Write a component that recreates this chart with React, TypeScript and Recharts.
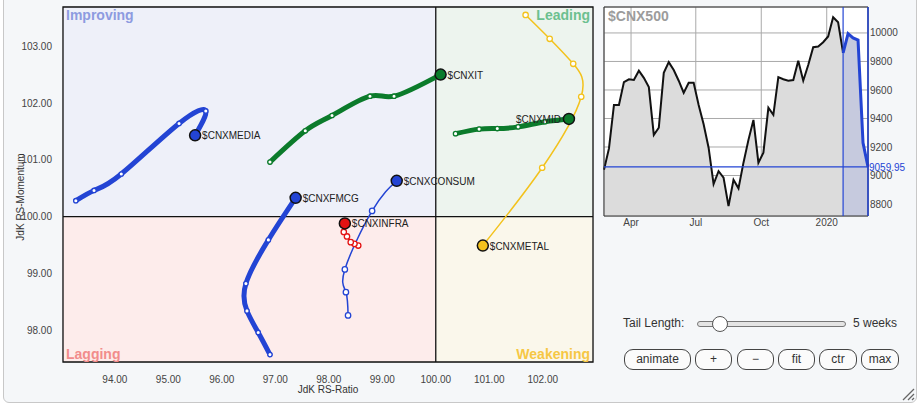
import React from "react";
import {
  ComposedChart,
  Line,
  Area,
  XAxis,
  YAxis,
  CartesianGrid,
  ReferenceArea,
  ReferenceLine,
  Label,
} from "recharts";

const FONT = "Arial, 'Liberation Sans', sans-serif";
const BLUE = "#2344d4";
const GREEN = "#0b7b2b";
const YELLOW = "#f3c21c";
const RED = "#e31212";

// RRG tails, oldest -> newest (last point = head)
const mediaRatio = [93.27, 93.61, 94.12, 95.2, 95.7, 95.5];
const mediaMom = [100.28, 100.46, 100.75, 101.64, 101.86, 101.43];
const itRatio = [96.9, 97.56, 98.06, 98.77, 99.22, 100.09];
const itMom = [100.96, 101.51, 101.78, 102.12, 102.12, 102.5];
const midRatio = [100.37, 100.81, 101.15, 101.54, 102.04, 102.49];
const midMom = [101.46, 101.54, 101.55, 101.58, 101.67, 101.72];
const metalRatio = [101.68, 102.13, 102.57, 102.72, 101.99, 100.88];
const metalMom = [103.55, 103.13, 102.69, 102.11, 100.86, 99.49];
const consumRatio = [98.36, 98.32, 98.3, 98.81, 99.27];
const consumMom = [98.26, 98.67, 99.07, 100.1, 100.63];
const infraRatio = [98.55, 98.48, 98.41, 98.34, 98.28, 98.3];
const infraMom = [99.49, 99.52, 99.55, 99.65, 99.73, 99.88];
const fmcgRatio = [96.9, 96.68, 96.47, 96.45, 96.87, 97.38];
const fmcgMom = [97.57, 97.96, 98.34, 98.82, 99.59, 100.33];

const ratioTicks = [94, 95, 96, 97, 98, 99, 100, 101, 102];
const momTicks = [98, 99, 100, 101, 102, 103];

// $CNX500 weekly closes
const weeks = [
  "2019-02-22", "2019-03-01", "2019-03-08", "2019-03-15", "2019-03-22", "2019-03-29",
  "2019-04-05", "2019-04-12", "2019-04-19", "2019-04-26", "2019-05-03", "2019-05-10",
  "2019-05-17", "2019-05-24", "2019-05-31", "2019-06-07", "2019-06-14", "2019-06-21",
  "2019-06-28", "2019-07-05", "2019-07-12", "2019-07-19", "2019-07-26", "2019-08-02",
  "2019-08-09", "2019-08-16", "2019-08-23", "2019-08-30", "2019-09-06", "2019-09-13",
  "2019-09-20", "2019-09-27", "2019-10-04", "2019-10-11", "2019-10-18", "2019-10-25",
  "2019-11-01", "2019-11-08", "2019-11-15", "2019-11-22", "2019-11-29", "2019-12-06",
  "2019-12-13", "2019-12-20", "2019-12-27", "2020-01-03", "2020-01-10", "2020-01-17",
  "2020-01-24", "2020-01-31", "2020-02-07", "2020-02-14", "2020-02-21", "2020-02-28",
];
const closes = [
  9040, 9190, 9495, 9495, 9655, 9675, 9670, 9735, 9685, 9620, 9285, 9335,
  9720, 9795, 9740, 9665, 9580, 9650, 9650, 9495, 9360, 9195, 8940, 9030,
  8985, 8785, 8970, 8910, 9090, 9250, 9390, 9090, 9160, 9475, 9425, 9690,
  9675, 9665, 9670, 9805, 9665, 9775, 9900, 9905, 9935, 9975, 10110, 10075,
  9860, 9995, 9965, 9950, 9230, 9059.95,
];
const tailStart = "2020-01-24";
const lastClose = 9059.95;
const priceTicks = [8800, 9000, 9200, 9400, 9600, 9800, 10000];
const monthTicks = ["2019-04-01", "2019-07-01", "2019-10-01", "2020-01-01"];
const monthLabels = ["Apr", "Jul", "Oct", "2020"];

const buttons = ["animate", "+", "\u2212", "fit", "ctr", "max"];

const ts = (d: string) => Date.parse(d + "T00:00:00Z");
const tailIdx = weeks.indexOf(tailStart);
const priceData = weeks.map((w, i) => ({
  t: ts(w),
  v: i <= tailIdx ? closes[i] : null,
  b: i >= tailIdx ? closes[i] : null,
}));
const monthTs = monthTicks.map(ts);

const series = [
  { name: "$CNXMETAL", ratio: metalRatio, mom: metalMom, color: YELLOW, width: 1.5, left: false },
  { name: "$CNXCONSUM", ratio: consumRatio, mom: consumMom, color: BLUE, width: 1.5, left: false },
  { name: "$CNXMEDIA", ratio: mediaRatio, mom: mediaMom, color: BLUE, width: 5, left: false },
  { name: "$CNXFMCG", ratio: fmcgRatio, mom: fmcgMom, color: BLUE, width: 5, left: false },
  { name: "$CNXINFRA", ratio: infraRatio, mom: infraMom, color: RED, width: 1.5, left: false },
  { name: "$CNXIT", ratio: itRatio, mom: itMom, color: GREEN, width: 5, left: false },
  { name: "$CNXMID", ratio: midRatio, mom: midMom, color: GREEN, width: 5, left: true },
];

const XMIN = 93.03;
const XMAX = 102.94;
const YMIN = 97.44;
const YMAX = 103.69;

const makeDot = (s: any) => (props: any) => {
  const { cx, cy, index } = props;
  const key = s.name + index;
  if (index === s.ratio.length - 1) {
    return (
      <g key={key}>
        <circle cx={cx} cy={cy} r={5.5} fill={s.color} stroke="#111" strokeWidth={1.5} />
        <text
          x={s.left ? cx - 8 : cx + 7}
          y={cy + 4}
          textAnchor={s.left ? "end" : "start"}
          fontSize={10}
          fill="#222"
          fontFamily={FONT}
        >
          {s.name}
        </text>
      </g>
    );
  }
  return (
    <circle key={key} cx={cx} cy={cy} r={s.width > 2 ? 2.2 : 2.7} fill="#fff" stroke={s.color} strokeWidth={1.3} />
  );
};

const quadLabel = (text: string, color: string, pos: any) => (
  <Label value={text} position={pos} offset={3} fill={color} fontSize={14} fontWeight="bold" fontFamily={FONT} />
);

function RRG() {
  const tick = { fontSize: 10, fill: "#444", fontFamily: FONT };
  return (
    <ComposedChart width={600} height={404} margin={{ top: 7, right: 7, bottom: 8, left: 0 }}>
      <XAxis
        type="number"
        dataKey="x"
        domain={[XMIN, XMAX]}
        ticks={ratioTicks}
        allowDataOverflow
        tickFormatter={(v: number) => v.toFixed(2)}
        tick={tick}
        axisLine={false}
        tickLine={false}
        tickSize={6}
        tickMargin={8}
        height={34}
      >
        <Label
          content={(p: any) => (
            <text x={p.viewBox.x + p.viewBox.width / 2} y={393} textAnchor="middle" fontSize={10} fill="#333" fontFamily={FONT}>
              JdK RS-Ratio
            </text>
          )}
        />
      </XAxis>
      <YAxis
        type="number"
        dataKey="y"
        domain={[YMIN, YMAX]}
        ticks={momTicks}
        allowDataOverflow
        tickFormatter={(v: number) => v.toFixed(2)}
        tick={tick}
        axisLine={false}
        tickLine={false}
        tickSize={6}
        tickMargin={5}
        width={63}
      >
        <Label
          content={() => (
            <text x={24} y={197} transform="rotate(-90 24 197)" textAnchor="middle" fontSize={10} fill="#333" fontFamily={FONT}>
              JdK RS-Momentum
            </text>
          )}
        />
      </YAxis>

      <ReferenceArea x1={XMIN} x2={100} y1={100} y2={YMAX} fill="#eef0f9" fillOpacity={1} stroke="none">
        {quadLabel("Improving", "#8d9be0", "insideTopLeft")}
      </ReferenceArea>
      <ReferenceArea x1={100} x2={XMAX} y1={100} y2={YMAX} fill="#edf4ee" fillOpacity={1} stroke="none">
        {quadLabel("Leading", "#6cc08f", "insideTopRight")}
      </ReferenceArea>
      <ReferenceArea x1={XMIN} x2={100} y1={YMIN} y2={100} fill="#fdeceb" fillOpacity={1} stroke="none">
        {quadLabel("Lagging", "#f28c8c", "insideBottomLeft")}
      </ReferenceArea>
      <ReferenceArea x1={100} x2={XMAX} y1={YMIN} y2={100} fill="#faf7eb" fillOpacity={1} stroke="none">
        {quadLabel("Weakening", "#f6c744", "insideBottomRight")}
      </ReferenceArea>

      <CartesianGrid stroke="#d9d9d9" strokeWidth={1} />

      <ReferenceLine x={100} stroke="#111" strokeWidth={1.3} />
      <ReferenceLine y={100} stroke="#111" strokeWidth={1.3} />
      <ReferenceArea x1={XMIN} x2={XMAX} y1={YMIN} y2={YMAX} fill="none" stroke="#111" strokeWidth={1.3} />

      {series.map((s) => (
        <Line
          key={s.name}
          data={s.ratio.map((x, i) => ({ x, y: s.mom[i] }))}
          dataKey="y"
          type="natural"
          stroke={s.color}
          strokeWidth={s.width}
          strokeLinecap="round"
          dot={makeDot(s)}
          activeDot={false}
          isAnimationActive={false}
        />
      ))}
    </ComposedChart>
  );
}

function PriceChart() {
  const tick = { fontSize: 10, fill: "#444", fontFamily: FONT };
  return (
    <ComposedChart width={319} height={240} data={priceData} margin={{ top: 7, right: 0, bottom: 6, left: 4 }}>
      <CartesianGrid stroke="#a9a9a9" fill="#fff" />
      <XAxis
        type="number"
        dataKey="t"
        domain={[priceData[0].t, priceData[priceData.length - 1].t]}
        ticks={monthTs}
        tickFormatter={(v: number) => monthLabels[monthTs.indexOf(v)]}
        tick={tick}
        axisLine={false}
        tickLine={false}
        tickSize={0}
        tickMargin={3}
        height={18}
      />
      <YAxis
        orientation="right"
        domain={[8716, 10182]}
        ticks={priceTicks}
        allowDataOverflow
        tick={tick}
        axisLine={false}
        tickLine={false}
        tickSize={0}
        tickMargin={2}
        width={51}
      />
      <Area
        dataKey="v"
        type="linear"
        stroke="#111"
        strokeWidth={2}
        fill="#dcdcdc"
        fillOpacity={1}
        dot={false}
        activeDot={false}
        isAnimationActive={false}
      />
      <Area
        dataKey="b"
        type="linear"
        stroke={BLUE}
        strokeWidth={3}
        fill="#c6cade"
        fillOpacity={1}
        dot={false}
        activeDot={false}
        isAnimationActive={false}
      />
      <ReferenceArea
        x1={priceData[0].t}
        x2={priceData[priceData.length - 1].t}
        y1={8716}
        y2={10182}
        fill="none"
        stroke="#333"
        strokeWidth={1}
      >
        <Label value="$CNX500" position="insideTopLeft" offset={4} fill="#9c9c9c" fontSize={14} fontWeight="bold" fontFamily={FONT} />
      </ReferenceArea>
      <ReferenceLine x={ts(tailStart)} stroke={BLUE} strokeWidth={1.2} />
      <ReferenceLine x={priceData[priceData.length - 1].t} stroke={BLUE} strokeWidth={1.5} />
      <ReferenceLine
        y={lastClose}
        stroke={BLUE}
        strokeWidth={1.2}
        label={(p: any) => {
          const vb = p.viewBox;
          const x = vb.x + vb.width + 1;
          return (
            <g>
              <rect x={x} y={vb.y - 6} width={40} height={11} fill="#f5f7f9" />
              <text x={x} y={vb.y + 4} fontSize={10} fill={BLUE} fontFamily={FONT}>
                {lastClose.toFixed(2)}
              </text>
            </g>
          );
        }}
      />
    </ComposedChart>
  );
}

const btnX = [624, 695, 737, 778, 819, 861];
const btnW = [65, 35, 35, 35, 36, 36];

export default function App() {
  return (
    <div style={{ position: "absolute", left: 0, top: 0, width: 919, height: 404, background: "#fff", overflow: "hidden", fontFamily: FONT }}>
      <div
        style={{
          position: "absolute",
          left: 3,
          top: -8,
          width: 912,
          height: 409,
          border: "1px solid #c8c8c8",
          borderRadius: 6,
          background: "#f5f7f9",
        }}
      />
      <div style={{ position: "absolute", left: 0, top: 0 }}>
        <RRG />
      </div>
      <div style={{ position: "absolute", left: 600, top: 0 }}>
        <PriceChart />
      </div>

      <div style={{ position: "absolute", left: 623, top: 316, fontSize: 12, color: "#333" }}>Tail Length:</div>
      <div
        style={{
          position: "absolute",
          left: 697,
          top: 321,
          width: 147,
          height: 4,
          border: "1px solid #777",
          borderRadius: 3,
          background: "#e4e4e4",
        }}
      />
      <div
        style={{
          position: "absolute",
          left: 712,
          top: 316,
          width: 14,
          height: 14,
          border: "1px solid #555",
          borderRadius: "50%",
          background: "#fff",
        }}
      />
      <div style={{ position: "absolute", left: 853, top: 316, fontSize: 12, color: "#333" }}>5 weeks</div>

      {buttons.map((b, i) => (
        <div
          key={b}
          style={{
            position: "absolute",
            left: btnX[i],
            top: 349,
            width: btnW[i],
            height: 19,
            border: "1px solid #444",
            borderRadius: 9,
            background: "#fbfbfb",
            fontSize: 12,
            color: "#333",
            textAlign: "center",
            lineHeight: "19px",
          }}
        >
          {b}
        </div>
      ))}

      <svg style={{ position: "absolute", left: 900, top: 386 }} width={16} height={16}>
        <line x1={3} y1={14} x2={14} y2={3} stroke="#666" strokeWidth={1.2} />
        <line x1={8} y1={14} x2={14} y2={8} stroke="#666" strokeWidth={1.2} />
        <line x1={12} y1={14} x2={14} y2={12} stroke="#666" strokeWidth={1.2} />
      </svg>
    </div>
  );
}
